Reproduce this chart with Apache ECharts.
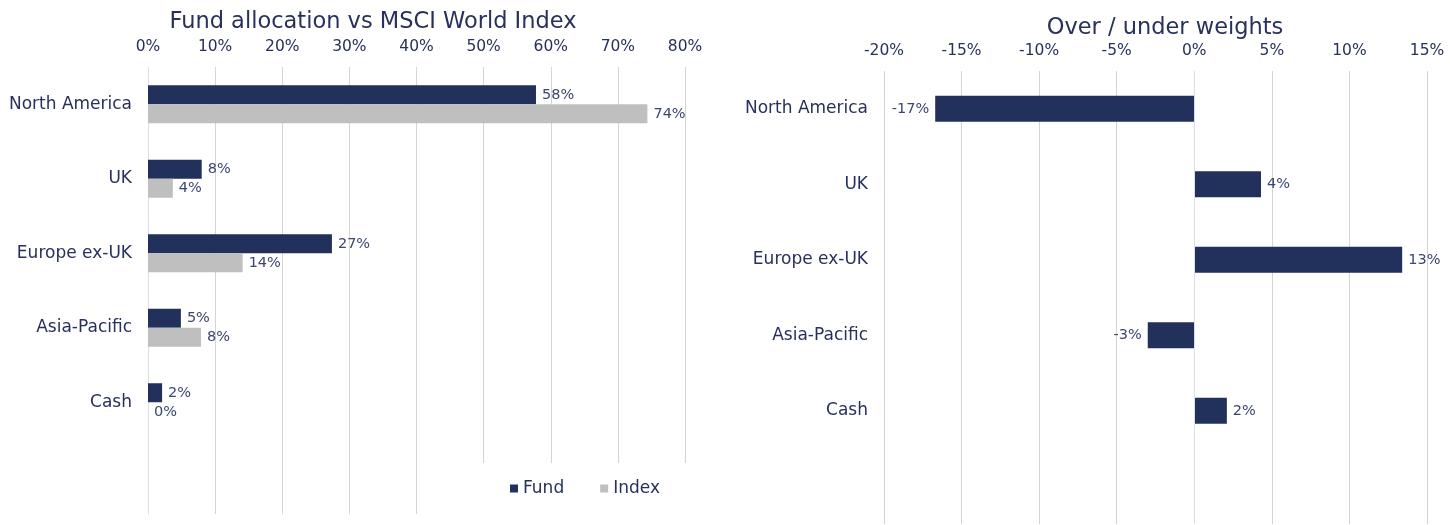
<!DOCTYPE html>
<html><head><meta charset="utf-8">
<script src="https://cdn.jsdelivr.net/npm/echarts@6/dist/echarts.min.js"></script>
<style>html,body{margin:0;padding:0;background:#fff}#c{width:1450px;height:525px}</style>
</head><body><div id="c"></div>
<script>
const categories = ['North America', 'UK', 'Europe ex-UK', 'Asia-Pacific', 'Cash'];
const fundValues = [57.8, 8.0, 27.4, 4.9, 2.1];
const indexValues = [74.4, 3.7, 14.1, 7.9, 0];
const overUnderValues = [-16.7, 4.3, 13.4, -3.0, 2.1];
const leftTicks = { min: 0, max: 80, interval: 10 };
const rightTicks = { min: -20, max: 15, interval: 5 };

const NAVY = '#22315b', GREY = '#bfbfbf', TXT = '#27315c', LBL = '#3c4671', SPLIT = '#d4d4d4';
const FONT = '"DejaVu Sans", sans-serif';
const cats = categories.concat(['']);
const pct = v => Math.round(v) + '%';

const chart = echarts.init(document.getElementById('c'), null, { renderer: 'canvas' });
chart.setOption({
  animation: false,
  textStyle: { fontFamily: FONT },
  title: [
    { text: 'Fund allocation vs MSCI World Index', left: 368, top: 6, textAlign: 'center',
      textStyle: { fontFamily: FONT, fontSize: 22.5, fontWeight: 'normal', color: TXT } },
    { text: 'Over / under weights', left: 1160, top: 12, textAlign: 'center',
      textStyle: { fontFamily: FONT, fontSize: 22.5, fontWeight: 'normal', color: TXT } }
  ],
  legend: {
    data: ['Fund', 'Index'], left: 448, top: 463, icon: 'rect', itemWidth: 8, itemHeight: 8,
    itemGap: 36, backgroundColor: '#fff', padding: [17, 40, 17, 62],
    textStyle: { fontFamily: FONT, fontSize: 17, color: TXT }
  },
  grid: [
    { left: 148, right: 765, top: 67, height: 447 },
    { left: 884, right: 23, top: 71, height: 453 }
  ],
  xAxis: [
    { gridIndex: 0, type: 'value', position: 'top', min: leftTicks.min, max: leftTicks.max, interval: leftTicks.interval,
      axisLabel: { formatter: '{value}%', fontSize: 15.5, color: TXT, margin: 12 },
      axisLine: { show: false }, axisTick: { show: false },
      splitLine: { lineStyle: { color: SPLIT, width: 1 } } },
    { gridIndex: 1, type: 'value', position: 'top', min: rightTicks.min, max: rightTicks.max, interval: rightTicks.interval,
      axisLabel: { formatter: '{value}%', fontSize: 15.5, color: TXT, margin: 12 },
      axisLine: { show: false }, axisTick: { show: false },
      splitLine: { lineStyle: { color: SPLIT, width: 1 } } }
  ],
  yAxis: [
    { gridIndex: 0, type: 'category', data: cats, inverse: true,
      axisLine: { show: true, lineStyle: { color: '#d8ddf0' } }, axisTick: { show: false },
      axisLabel: { fontSize: 17, color: TXT, margin: 16 } },
    { gridIndex: 1, type: 'category', data: cats, inverse: true,
      axisLine: { show: false, onZero: false }, axisTick: { show: false },
      axisLabel: { fontSize: 17, color: TXT, margin: 16 } }
  ],
  series: [
    { name: 'Fund', type: 'bar', xAxisIndex: 0, yAxisIndex: 0, data: fundValues,
      barWidth: 19, barGap: '0%', itemStyle: { color: NAVY },
      label: { show: true, position: 'right', distance: 6, formatter: p => pct(p.value), fontSize: 14.5, color: LBL } },
    { name: 'Index', type: 'bar', xAxisIndex: 0, yAxisIndex: 0, data: indexValues,
      barWidth: 19, barGap: '0%', itemStyle: { color: GREY },
      label: { show: true, position: 'right', distance: 6, formatter: p => pct(p.value), fontSize: 14.5, color: LBL } },
    { name: 'Over / under', type: 'bar', xAxisIndex: 1, yAxisIndex: 1,
      data: overUnderValues.map(v => ({ value: v, label: { position: v < 0 ? 'left' : 'right' } })),
      barWidth: 26, itemStyle: { color: NAVY },
      label: { show: true, distance: 6, formatter: p => pct(p.value), fontSize: 14.5, color: LBL },
      markLine: { silent: true, symbol: 'none', label: { show: false },
        lineStyle: { color: '#d8ddf0', type: 'solid', width: 1 }, data: [{ xAxis: 0 }] } }
  ]
});
</script></body></html>
